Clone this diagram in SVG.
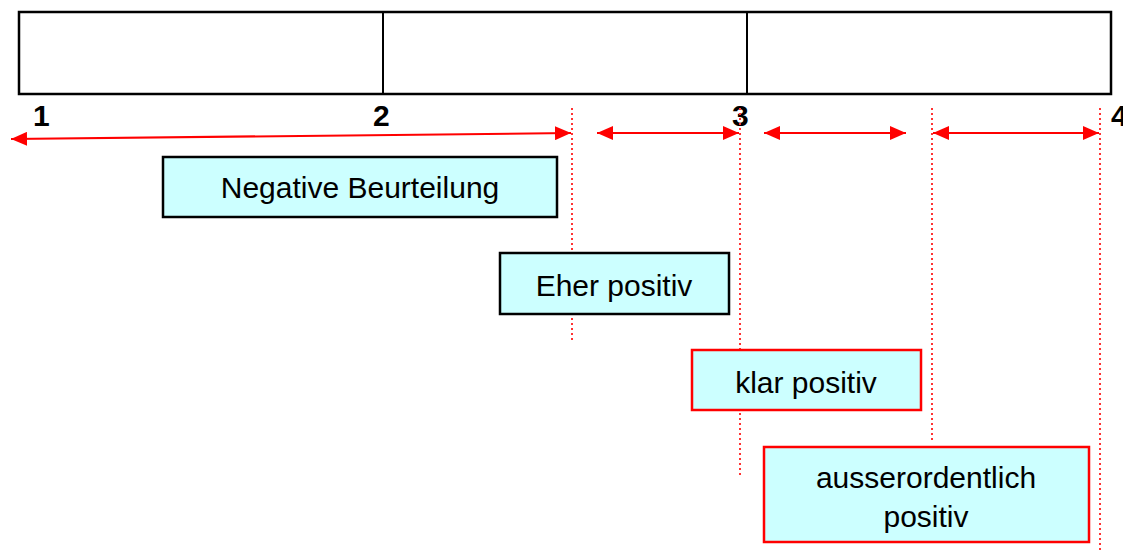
<svg xmlns="http://www.w3.org/2000/svg" width="1123" height="553" viewBox="0 0 1123 553">
<style>
.box{fill:#CCFFFF;stroke-width:2.5}
.blk{stroke:#000}
.red{stroke:#FF0000}
.lbl{font-family:"Liberation Sans",Arial,sans-serif;font-size:30px;fill:#000;text-anchor:middle}
.num{font-family:"Liberation Sans",Arial,sans-serif;font-size:30px;font-weight:bold;fill:#000}
.arr{stroke:#FF0000;stroke-width:2;fill:none;marker-start:url(#ah);marker-end:url(#ah)}
.dot{stroke:#FF3333;stroke-width:2;stroke-dasharray:2,3;fill:none}
</style>
<defs>
<marker id="ah" viewBox="0 0 16 14" refX="16" refY="7" markerWidth="16" markerHeight="14" markerUnits="userSpaceOnUse" orient="auto-start-reverse">
<path d="M0,0 L16,7 L0,14 Z" fill="#FF0000"/>
</marker>
</defs>
<g id="scale">
<rect x="19" y="12" width="1092" height="82" fill="#fff" stroke="#000" stroke-width="2.5"/>
<line x1="383" y1="12" x2="383" y2="94" stroke="#000" stroke-width="2"/>
<line x1="747" y1="12" x2="747" y2="94" stroke="#000" stroke-width="2"/>
<text class="num" x="33" y="126">1</text>
<text class="num" x="373" y="126">2</text>
<text class="num" x="732" y="126">3</text>
<text class="num" x="1111" y="126">4</text>
</g>
<g id="connectors">
<line class="dot" x1="572" y1="108" x2="572" y2="343"/>
<line class="dot" x1="740" y1="108" x2="740" y2="478"/>
<line class="dot" x1="932" y1="108" x2="932" y2="443"/>
<line class="dot" x1="1100" y1="108" x2="1100" y2="553"/>
<line class="arr" x1="11" y1="139" x2="571" y2="133"/>
<line class="arr" x1="597" y1="133" x2="739" y2="133"/>
<line class="arr" x1="764" y1="133" x2="906" y2="133"/>
<line class="arr" x1="933" y1="133" x2="1099" y2="133"/>
</g>
<g id="negative">
<rect class="box blk" x="163" y="157" width="394" height="60"/>
<text class="lbl" x="360" y="198">Negative Beurteilung</text>
</g>
<g id="eher">
<rect class="box blk" x="500" y="253" width="229" height="61"/>
<text class="lbl" x="614" y="296">Eher positiv</text>
</g>
<g id="klar">
<rect class="box red" x="692" y="350" width="229" height="60"/>
<text class="lbl" x="806" y="393">klar positiv</text>
</g>
<g id="ausser">
<rect class="box red" x="764" y="447" width="325" height="95"/>
<text class="lbl" x="926" y="488">ausserordentlich</text>
<text class="lbl" x="926" y="527">positiv</text>
</g>
</svg>
